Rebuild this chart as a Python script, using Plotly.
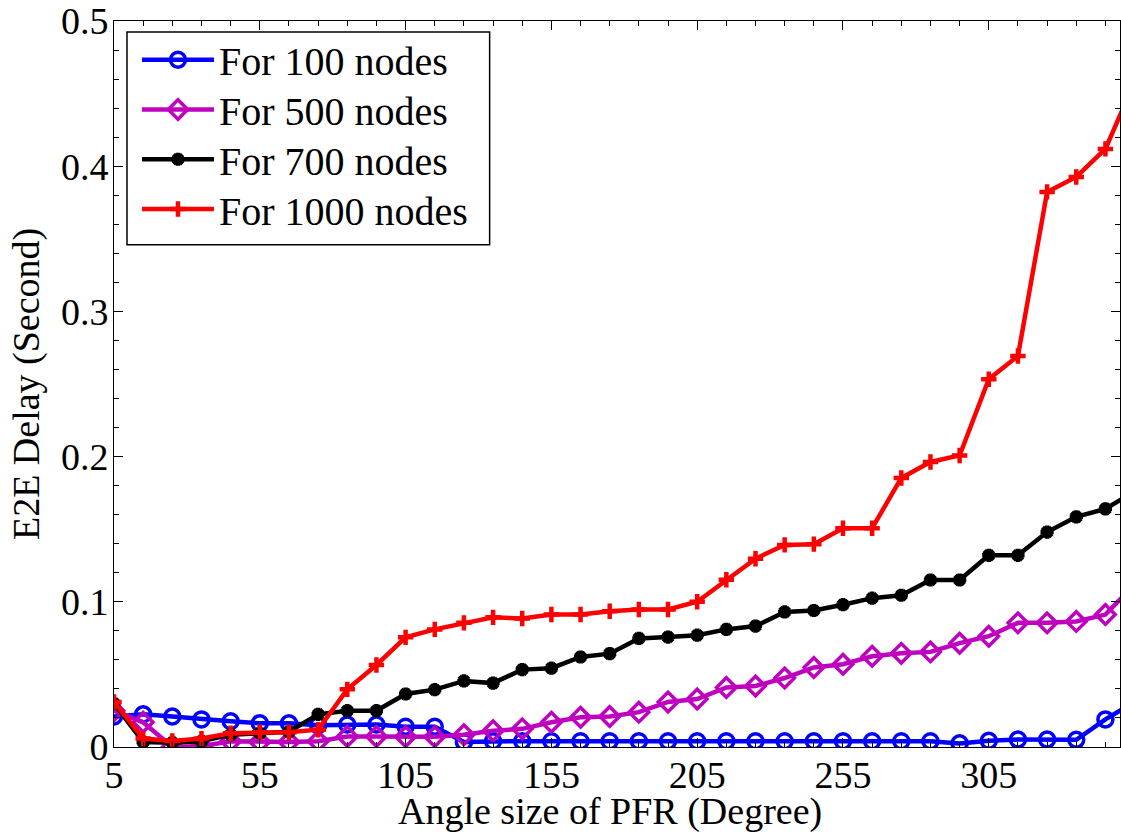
import plotly.graph_objects as go

angles = [5, 15, 25, 35, 45, 55, 65, 75, 85, 95, 105, 115, 125, 135, 145, 155, 165, 175,
          185, 195, 205, 215, 225, 235, 245, 255, 265, 275, 285, 295, 305, 315, 325, 335, 345, 355]

delay_100 = [0.021, 0.0225, 0.021, 0.019, 0.0177, 0.0163, 0.0163, 0.015, 0.0155, 0.0155, 0.014, 0.014,
             0.0035, 0.004, 0.004, 0.004, 0.004, 0.004, 0.004, 0.004, 0.004, 0.004, 0.004, 0.004,
             0.004, 0.004, 0.004, 0.004, 0.004, 0.0025, 0.0043, 0.0052, 0.0052, 0.005, 0.019, 0.031]

delay_500 = [0.025, 0.017, 0.0, 0.0005, 0.004, 0.0035, 0.0035, 0.004, 0.0072, 0.0072, 0.007, 0.007,
             0.0085, 0.0112, 0.0125, 0.017, 0.0205, 0.021, 0.024, 0.031, 0.033, 0.041, 0.042, 0.0475,
             0.0548, 0.057, 0.0625, 0.0645, 0.0655, 0.0715, 0.0763, 0.0855, 0.0855, 0.0865, 0.0912, 0.112]

delay_700 = [0.030, 0.0035, 0.003, 0.004, 0.0085, 0.0095, 0.0105, 0.0225, 0.025, 0.025, 0.0365, 0.0395,
             0.0455, 0.044, 0.0533, 0.0543, 0.062, 0.0643, 0.0748, 0.0757, 0.077, 0.081, 0.0833, 0.093,
             0.094, 0.098, 0.1025, 0.1045, 0.115, 0.115, 0.132, 0.132, 0.148, 0.1585, 0.164, 0.176]

delay_1000 = [0.031, 0.0058, 0.0042, 0.0058, 0.0095, 0.0102, 0.0102, 0.0119, 0.0397, 0.0565, 0.0755, 0.081,
              0.0855, 0.0893, 0.0885, 0.0913, 0.0913, 0.0935, 0.0947, 0.0947, 0.1, 0.1152, 0.1297, 0.1392,
              0.1397, 0.1507, 0.1507, 0.1853, 0.1963, 0.2008, 0.2533, 0.2693, 0.3823, 0.3926, 0.4119, 0.458]

series_names = ["For 100 nodes", "For 500 nodes", "For 700 nodes", "For 1000 nodes"]
x_tick_vals = [5, 55, 105, 155, 205, 255, 305]
y_tick_vals = [0, 0.1, 0.2, 0.3, 0.4, 0.5]
y_tick_text = ["0", "0.1", "0.2", "0.3", "0.4", "0.5"]

FONT = "Liberation Serif"
FS = 38
LEG_FS = 40

fig = go.Figure()

styles = [
    (delay_100, "#0000FF", "circle-open", 15, 3.5),
    (delay_500, "#BF00BF", "diamond-open", 15, 3.5),
    (delay_700, "#000000", "asterisk-open", 11, 4.5),
    (delay_1000, "#FF0000", "cross-thin-open", 11, 4.5),
]
legend_ids = ["legend", "legend2", "legend3", "legend4"]
legend_rows_px = [56, 106, 156, 206]

for name, lid, (vals, col, sym, sz, lw) in zip(series_names, legend_ids, styles):
    fig.add_trace(go.Scatter(
        x=angles, y=vals, name=name, mode="lines+markers", legend=lid,
        line=dict(color=col, width=4.5),
        marker=dict(symbol=sym, size=sz, color=col, line=dict(color=col, width=lw)),
    ))

axis_common = dict(
    showgrid=False, zeroline=False, showline=True, linecolor="black", linewidth=1,
    mirror="ticks", ticks="inside", ticklen=9, tickwidth=1, tickcolor="black",
    tickfont=dict(family=FONT, size=FS, color="black"), ticklabeloverflow="allow",
)

fig.update_xaxes(
    range=[5, 350], tickmode="array", tickvals=x_tick_vals, ticklabelstandoff=-6,
    minor=dict(dtick=10, tick0=5, ticks="inside", ticklen=5, tickcolor="black", showgrid=False),
    **axis_common,
)
fig.update_yaxes(
    range=[0, 0.5], tickmode="array", tickvals=y_tick_vals, ticktext=y_tick_text,
    ticklabelstandoff=-3,
    minor=dict(dtick=0.02, tick0=0, ticks="inside", ticklen=5, tickcolor="black", showgrid=False),
    **axis_common,
)

fig.add_annotation(text="Angle size of PFR (Degree)", xref="paper", yref="paper",
                   x=0.4935, y=-0.089, xanchor="center", yanchor="middle", showarrow=False,
                   font=dict(family=FONT, size=FS, color="black"))
fig.add_annotation(text="E2E Delay (Second)", xref="paper", yref="paper",
                   x=-0.0874, y=0.5, xanchor="center", yanchor="middle", textangle=-90,
                   showarrow=False, font=dict(family=FONT, size=FS, color="black"))

# legend frame
fig.add_shape(type="rect", xref="paper", yref="paper",
              x0=(127 - 114) / 1007, x1=(490 - 114) / 1007,
              y0=(747 - 242) / 730, y1=(747 - 28) / 730,
              line=dict(color="black", width=1.5), fillcolor="white", layer="above")

legend_layout = {}
for lid, row in zip(legend_ids, legend_rows_px):
    legend_layout[lid] = dict(
        x=(137 - 114) / 1007, y=(747 - row) / 730, xanchor="left", yanchor="middle",
        borderwidth=0, bgcolor="rgba(0,0,0,0)",
        font=dict(family=FONT, size=LEG_FS, color="black"),
        itemwidth=72, tracegroupgap=0,
    )

fig.update_layout(
    width=1121, height=835,
    margin=dict(l=114, r=0, t=17, b=88, pad=0),
    paper_bgcolor="white", plot_bgcolor="white",
    font=dict(family=FONT, size=FS, color="black"),
    showlegend=True,
    **legend_layout,
)

fig.write_html("out.html")
